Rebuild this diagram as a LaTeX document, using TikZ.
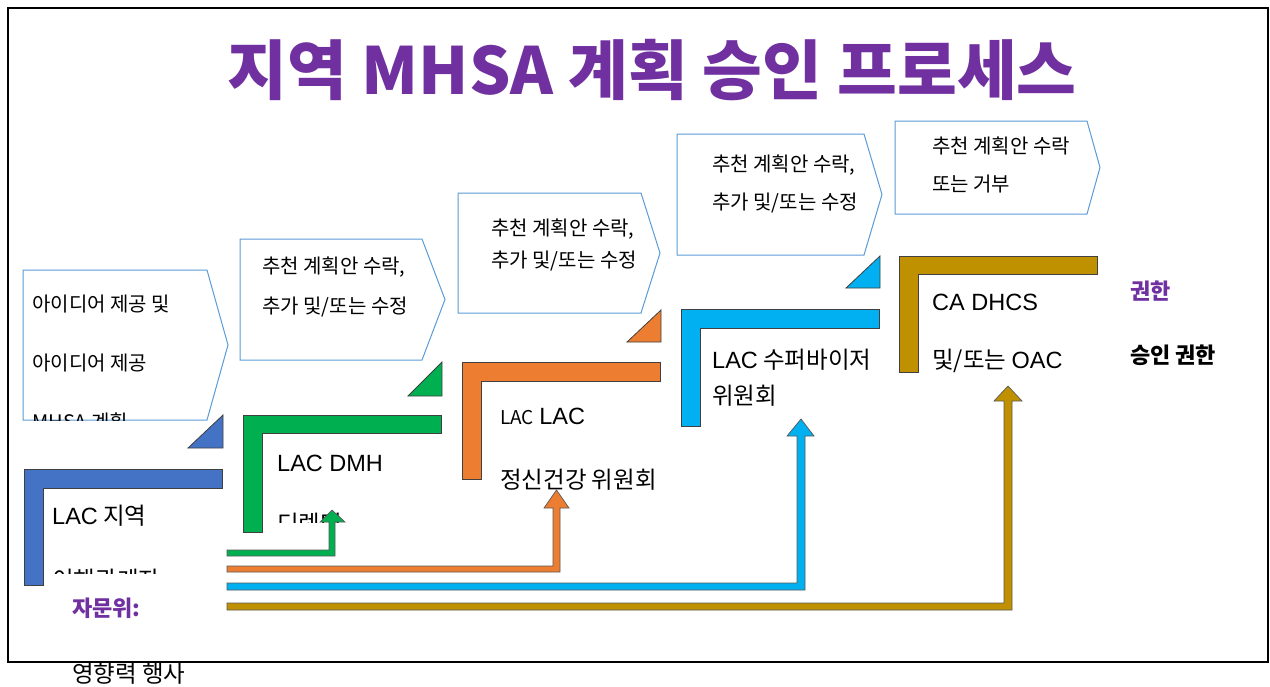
\documentclass[tikz,border=0pt]{standalone}
\usepackage{fontspec}
\setmainfont{Noto Sans CJK KR}
\newfontfamily\lat{Liberation Sans}
\definecolor{ttl}{HTML}{7030A0}
\definecolor{boxblue}{HTML}{5B9BD5}
\definecolor{cblue}{HTML}{4472C4}
\definecolor{cgreen}{HTML}{00B050}
\definecolor{corange}{HTML}{ED7D31}
\definecolor{ccyan}{HTML}{00B0F0}
\definecolor{cgold}{HTML}{BF9000}
\newcommand\pentbox[5]{\filldraw[pentline] (#1,#2) -- (#3,#2) -- (#4,{(#2+#5)/2}) -- (#3,#5) -- (#1,#5) -- cycle;}
\newcommand\lbar[7]{\filldraw[lline, fill=#1] (#2,#3) -- (#4,#3) -- (#4,#5) -- (#6,#5) -- (#6,#7) -- (#2,#7) -- cycle;}
\newcommand\blkarrow[9]{\filldraw[aline, fill=#1] (227,#2) -- (#4,#2) -- (#4,#6) -- (#7,#6) -- ({(#4+#5)/2},#9) -- (#8,#6) -- (#5,#6) -- (#5,#3) -- (227,#3) -- cycle;}
\begin{document}
\begin{tikzpicture}[x=1pt,y=-1pt,
  pentline/.style={draw=boxblue, line width=1pt, fill=white},
  lline/.style={draw=black!75, line width=0.8pt},
  aline/.style={draw=black!65, line width=0.7pt},
  small/.style={anchor=west, inner sep=0pt, font=\fontsize{20}{22}\selectfont, text height=16.5pt, text depth=1.5pt},
  big/.style={anchor=west, inner sep=0pt, font=\fontsize{23.5}{26}\selectfont, text height=20pt, text depth=2pt},
  note/.style={anchor=west, inner sep=0pt, font=\fontsize{22}{24}\selectfont\bfseries, text height=18.5pt, text depth=1.5pt}]
\useasboundingbox (0,0) rectangle (1270,686);
% frame
\draw[line width=1.5pt] (8,8) rectangle (1268,662);
% title
\node[inner sep=0pt, text=ttl, font=\fontsize{65}{70}\selectfont\bfseries] (title) at (652,70) {지역 MHSA 계획 승인 프로세스};
% pentagon callouts
\pentbox{23}{270}{207}{228}{420}
\pentbox{240}{239}{422}{445}{360}
\pentbox{458}{193}{641}{660}{313}
\pentbox{677}{134}{864}{882}{255}
\pentbox{895}{121}{1087}{1100}{214}
% callout texts
\node[small] (c1a) at (32,304) {아이디어 제공 및};
\node[small] (c1b) at (32,363) {아이디어 제공};
\begin{scope}
\clip (20,380) rectangle (220,420);
\node[small] (c1c) at (32,422) {MHSA 계획};
\end{scope}
\node[small] (c2a) at (262,266) {추천 계획안 수락,};
\node[small] (c2b) at (262,306) {추가 및/또는 수정};
\node[small] (c3a) at (491,228) {추천 계획안 수락,};
\node[small] (c3b) at (491,260) {추가 및/또는 수정};
\node[small] (c4a) at (712,164) {추천 계획안 수락,};
\node[small] (c4b) at (712,202) {추가 및/또는 수정};
\node[small] (c5a) at (932,146) {추천 계획안 수락};
\node[small] (c5b) at (932,184) {또는 거부};
% triangles
\filldraw[lline, fill=cblue] (188,448) -- (223,448) -- (223,415) -- cycle;
\filldraw[lline, fill=cgreen] (408,396) -- (442,396) -- (442,362) -- cycle;
\filldraw[lline, fill=corange] (627,342) -- (661,342) -- (661,310) -- cycle;
\filldraw[lline, fill=ccyan] (846,288) -- (880,288) -- (880,256) -- cycle;
% L bars
\lbar{cblue}{24}{469}{222}{488}{43}{585}
\lbar{cgreen}{243}{415}{441}{433}{262}{532}
\lbar{corange}{462}{362}{660}{381}{481}{479}
\lbar{ccyan}{681}{309}{879}{328}{700}{426}
\lbar{cgold}{899}{256}{1097}{274}{918}{372}
% L labels
\node[big] (s1a) at (52,515) {{\lat LAC} 지역};
\begin{scope}
\clip (45,540) rectangle (220,573);
\node[big] (s1b) at (52,579) {이해관계자};
\end{scope}
\node[big] (s2a) at (277,462) {\lat LAC DMH};
\begin{scope}
\clip (270,490) rectangle (440,522);
\node[big] (s2b) at (277,523) {디렉터};
\end{scope}
\node[big] (s3a) at (500,415) {{\fontsize{19}{21}\selectfont LAC} {\lat LAC}};
\node[big] (s3b) at (500,479) {정신건강 위원회};
\node[big] (s4a) at (712,359) {{\lat LAC} 수퍼바이저};
\node[big] (s4b) at (712,395) {위원회};
\node[big] (s5a) at (932,301) {\lat CA DHCS};
\node[big] (s5b) at (932,359) {및/또는 {\lat OAC}};
% right legend
\node[note, text=ttl] (auth) at (1130,291) {권한};
\node[note] (appr) at (1130,355) {승인 권한};
% left legend
\node[note, text=ttl] (adv) at (72,608) {자문위:};
\node[anchor=west, inner sep=0pt, font=\fontsize{23.5}{26}\selectfont, text height=20pt, text depth=2pt] (infl) at (72,673) {영향력 행사};
% block arrows
\blkarrow{cgreen}{550}{556}{329}{335}{522}{320}{345}{510}
\blkarrow{corange}{566}{572}{553}{560}{508}{544}{569}{490}
\blkarrow{ccyan}{583}{590}{797}{805}{436}{787}{814}{419}
\blkarrow{cgold}{603}{610}{1004}{1012}{401}{994}{1022}{386}
\end{tikzpicture}
\end{document}
